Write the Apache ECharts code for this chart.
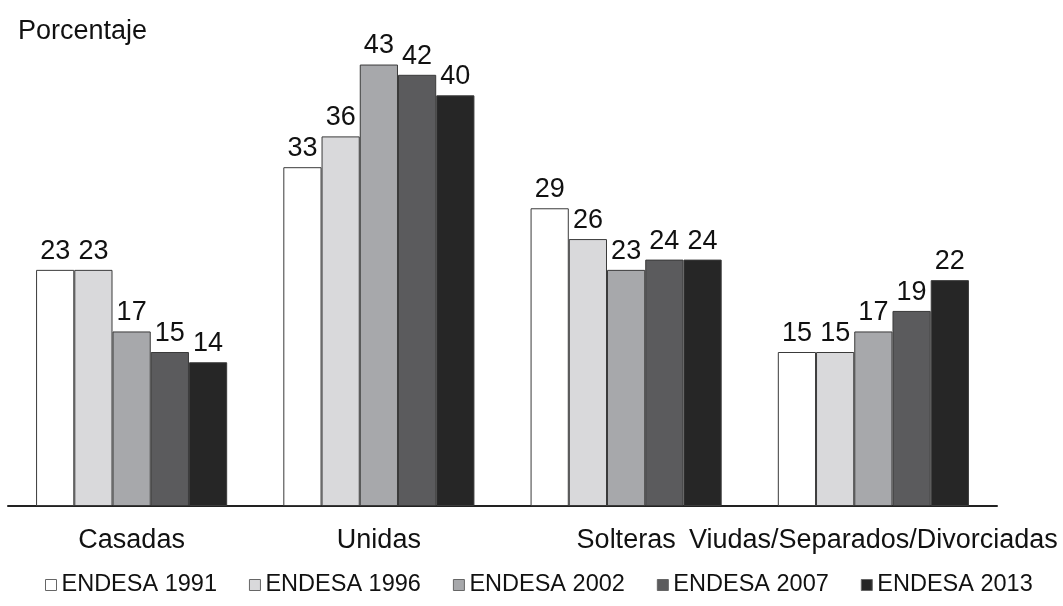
<!DOCTYPE html>
<html lang="es">
<head>
  <meta charset="UTF-8">
  <title>Porcentaje por estado civil, ENDESA</title>
  <script src="https://cdn.jsdelivr.net/npm/echarts@6/dist/echarts.min.js"></script>
  <style>
    html, body, #main {
      margin: 0;
      padding: 0;
      width: 1063px;
      height: 606px;
      background: #fff;
    }
  </style>
</head>
<body>
  <div id="main"></div>

  <script>
    const categories = ["Casadas", "Unidas", "Solteras", "Viudas/Separados/Divorciadas"];

    const endesa1991 = [23, 33, 29, 15];
    const endesa1996 = [23, 36, 26, 15];
    const endesa2002 = [17, 43, 23, 17];
    const endesa2007 = [15, 42, 24, 19];
    const endesa2013 = [14, 40, 24, 22];

    const seriesNames = ["ENDESA 1991", "ENDESA 1996", "ENDESA 2002", "ENDESA 2007", "ENDESA 2013"];
    const seriesData = [endesa1991, endesa1996, endesa2002, endesa2007, endesa2013];
    // tonos de gris, de claro a oscuro
    const colors = ["#ffffff", "#d9d9db", "#a7a8ab", "#5b5b5d", "#262626"];

    const font = "'Liberation Sans', Arial, sans-serif";

    const series = seriesNames.map((name, i) => ({
      name: name,
      type: 'bar',
      barGap: '0%',
      barCategoryGap: '22.7%',
      data: seriesData[i],
      itemStyle: {
        color: colors[i],
        borderColor: '#3a3a3a',
        borderWidth: 1
      },
      label: {
        show: true,
        position: 'top',
        distance: 5,
        color: '#111',
        fontSize: 27,
        fontFamily: font
      }
    }));

    const chart = echarts.init(document.getElementById('main'));
    chart.setOption({
      animation: false,
      textStyle: { fontFamily: font },
      title: {
        text: 'Porcentaje',
        left: 13,
        top: 13,
        textStyle: { fontSize: 27, fontWeight: 'normal', color: '#111', fontFamily: font }
      },
      legend: {
        left: 40,
        top: 568,
        icon: 'rect',
        itemWidth: 11,
        itemHeight: 11,
        itemGap: 32,
        textStyle: { fontSize: 23.5, color: '#111', fontFamily: font },
        itemStyle: { borderColor: '#666', borderWidth: 1 },
        data: seriesNames
      },
      grid: {
        left: 8,
        right: 66,
        top: 44,
        bottom: 100
      },
      xAxis: {
        type: 'category',
        data: categories,
        axisLine: { lineStyle: { color: '#222', width: 2 } },
        axisTick: { show: false },
        axisLabel: {
          interval: 0,
          margin: 21,
          fontSize: 27,
          color: '#111',
          fontFamily: font
        }
      },
      yAxis: {
        type: 'value',
        min: 0,
        max: 45,
        show: false,
        splitLine: { show: false }
      },
      series: series
    });
  </script>
</body>
</html>
